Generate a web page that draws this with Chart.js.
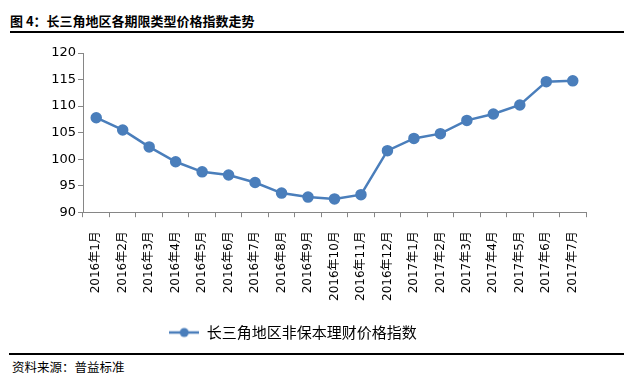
<!DOCTYPE html>
<html><head><meta charset="utf-8">
<script src="https://cdn.jsdelivr.net/npm/chart.js@4/dist/chart.umd.min.js"></script>
<style>
html,body{margin:0;padding:0;background:#fff;width:631px;height:383px;overflow:hidden;position:relative;font-family:"Noto Sans CJK SC",sans-serif;}
#title{position:absolute;left:10px;top:12px;font-size:13px;font-weight:bold;color:#000;line-height:18px;white-space:nowrap;}
.rule{position:absolute;height:2px;background:#000;}
#src{position:absolute;left:12px;top:358px;font-size:12.5px;color:#000;line-height:17px;white-space:nowrap;}
#wrap{position:absolute;left:0;top:0;width:631px;height:350px;}
</style></head>
<body>
<div id="title">图 4：长三角地区各期限类型价格指数走势</div>
<div class="rule" style="left:10px;top:31px;width:614px;"></div>
<div id="wrap"><canvas id="c" width="631" height="350"></canvas></div>
<div class="rule" style="left:9px;top:353px;width:615px;"></div>
<div id="src">资料来源：普益标准</div>
<script>
const categories = ["2016年1月","2016年2月","2016年3月","2016年4月","2016年5月","2016年6月","2016年7月","2016年8月","2016年9月","2016年10月","2016年11月","2016年12月","2017年1月","2017年2月","2017年3月","2017年4月","2017年5月","2017年6月","2017年7月"];
const seriesName = "长三角地区非保本理财价格指数";
const seriesValues = [107.8,105.5,102.3,99.5,97.6,97.0,95.6,93.6,92.85,92.5,93.3,101.6,103.9,104.8,107.3,108.5,110.2,114.6,114.75];
const yTicks = [90,95,100,105,110,115,120];

const BLUE = "#4A7EBB";
const legendIcon = document.createElement("canvas");
legendIcon.width = 30; legendIcon.height = 12;
(function(){
  const g = legendIcon.getContext("2d");
  g.strokeStyle = BLUE; g.lineWidth = 2.5;
  g.beginPath(); g.moveTo(0,6); g.lineTo(30,6); g.stroke();
  g.fillStyle = BLUE; g.beginPath(); g.arc(15,6,4.5,0,Math.PI*2); g.fill();
})();

new Chart(document.getElementById("c"), {
  type: "line",
  data: {
    labels: categories,
    datasets: [{
      label: seriesName,
      data: seriesValues,
      borderColor: BLUE,
      backgroundColor: BLUE,
      borderWidth: 2.5,
      pointRadius: 4.5,
      pointBackgroundColor: BLUE,
      pointBorderColor: BLUE,
      tension: 0
    }]
  },
  options: {
    responsive: false,
    animation: false,
    devicePixelRatio: 1,
    layout: { padding: { top: 53, right: 45, left: 0, bottom: 0 } },
    plugins: {
      tooltip: { enabled: false },
      legend: {
        position: "bottom",
        labels: {
          usePointStyle: true,
          pointStyleWidth: 30,
          padding: 10,
          color: "#000",
          font: { family: "'Noto Sans CJK SC', sans-serif", size: 15 },
          generateLabels: (chart) => [{
            text: seriesName, pointStyle: legendIcon, fillStyle: BLUE, strokeStyle: BLUE,
            lineWidth: 0, hidden: false, datasetIndex: 0, fontColor: "#000"
          }]
        }
      }
    },
    scales: {
      x: {
        type: "category",
        offset: true,
        grid: { display: true, drawOnChartArea: false, offset: true, tickLength: 5, color: "#868686", tickColor: "#868686" },
        border: { display: true, color: "#868686", width: 1 },
        ticks: {
          autoSkip: false, minRotation: 90, maxRotation: 90, padding: 14, color: "#000",
          font: { family: "'DejaVu Sans', 'Noto Sans CJK SC', sans-serif", size: 12 }
        }
      },
      y: {
        min: 90, max: 120,
        afterFit: (s) => { s.width = 83; },
        afterBuildTicks: (s) => { s.ticks = yTicks.map(v => ({ value: v })); },
        grid: { display: true, drawOnChartArea: false, tickLength: 5, color: "#868686", tickColor: "#868686" },
        border: { display: true, color: "#868686", width: 1 },
        ticks: {
          padding: 2, color: "#000",
          font: { family: "'DejaVu Sans', sans-serif", size: 13 }
        }
      }
    }
  }
});
</script>
</body></html>
